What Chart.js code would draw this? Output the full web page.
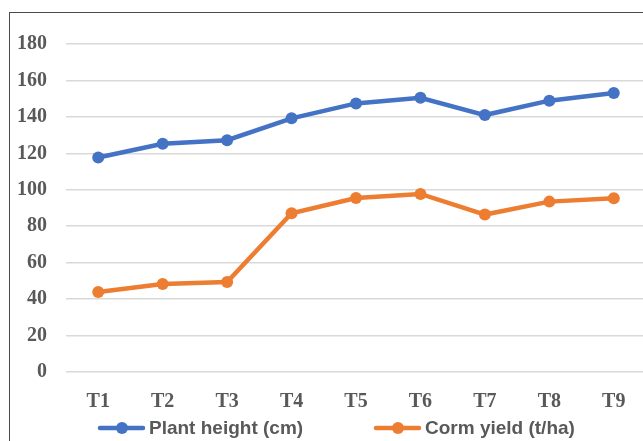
<!DOCTYPE html>
<html>
<head>
<meta charset="utf-8">
<title>Plant height and corm yield</title>
<script src="https://cdn.jsdelivr.net/npm/chart.js@4.4.1/dist/chart.umd.min.js"></script>
<style>
  html, body { margin: 0; padding: 0; background: #fff; overflow: hidden; }
  #frame {
    position: absolute; left: 9px; top: 12px;
    width: 700px; height: 470px;
    border: 1px solid #4a4a4a; background: #fff;
  }
  #chart { position: absolute; left: 0; top: 0; }
</style>
</head>
<body>
<div id="frame">
  <canvas id="chart" width="642" height="430"></canvas>
</div>
<script>
const categories = ['T1', 'T2', 'T3', 'T4', 'T5', 'T6', 'T7', 'T8', 'T9'];
const plantHeight = [117.7, 125.3, 127.2, 139.2, 147.4, 150.5, 141.0, 148.9, 153.1];
const cormYield = [43.9, 48.3, 49.4, 87.1, 95.5, 97.7, 86.4, 93.5, 95.3];
const seriesNames = ['Plant height (cm)', 'Corm yield (t/ha)'];

const BLUE = '#4472C4';
const ORANGE = '#ED7D31';
const tickFont = { family: "'Liberation Serif', 'Times New Roman', serif", size: 20, weight: 'bold' };

// legend drawn by hand: line + marker + label, like the Excel one
const lineLegend = {
    id: 'lineLegend',
    afterDraw(chart, args, opts) {
        const ctx = chart.ctx;
        ctx.save();
        ctx.font = opts.font;
        ctx.textBaseline = 'middle';
        ctx.textAlign = 'left';
        chart.data.datasets.forEach((ds, i) => {
            const x = opts.x[i];
            const y = opts.y;
            ctx.strokeStyle = ds.borderColor;
            ctx.lineWidth = 4.5;
            ctx.lineCap = 'round';
            ctx.beginPath();
            ctx.moveTo(x, y);
            ctx.lineTo(x + 43, y);
            ctx.stroke();
            ctx.fillStyle = ds.borderColor;
            ctx.beginPath();
            ctx.arc(x + 22, y, 6, 0, Math.PI * 2);
            ctx.fill();
            ctx.fillStyle = '#595959';
            ctx.fillText(ds.label, x + 49, y + 1);
        });
        ctx.restore();
    }
};

const ctx = document.getElementById('chart').getContext('2d');
const chart = new Chart(ctx, {
    type: 'line',
    data: {
        labels: categories,
        datasets: [{
            label: seriesNames[0],
            data: plantHeight,
            borderColor: BLUE,
            backgroundColor: BLUE,
            borderWidth: 4.5,
            pointRadius: 6,
            pointHoverRadius: 6,
            pointBorderWidth: 0,
            tension: 0
        }, {
            label: seriesNames[1],
            data: cormYield,
            borderColor: ORANGE,
            backgroundColor: ORANGE,
            borderWidth: 4.5,
            pointRadius: 6,
            pointHoverRadius: 6,
            pointBorderWidth: 0,
            tension: 0
        }]
    },
    options: {
        responsive: false,
        animation: false,
        layout: { padding: { left: 7, right: 0, top: 30, bottom: 0 } },
        scales: {
            x: {
                offset: true,
                grid: { display: false },
                border: { display: false },
                ticks: { font: tickFont, color: '#595959', padding: 10 },
                afterFit(scale) { scale.height = 71; }
            },
            y: {
                min: 0,
                max: 180,
                grid: { color: '#d9d9d9', lineWidth: 1.5, drawTicks: false },
                border: { display: false },
                ticks: { stepSize: 20, font: tickFont, color: '#595959', padding: 19 },
                afterFit(scale) { scale.width = 49; }
            }
        },
        plugins: {
            legend: { display: false },
            tooltip: { enabled: false },
            lineLegend: {
                x: [90, 366],
                y: 415,
                font: "bold 19px 'Liberation Sans', Arial, sans-serif"
            }
        }
    },
    plugins: [lineLegend]
});
</script>
</body>
</html>
